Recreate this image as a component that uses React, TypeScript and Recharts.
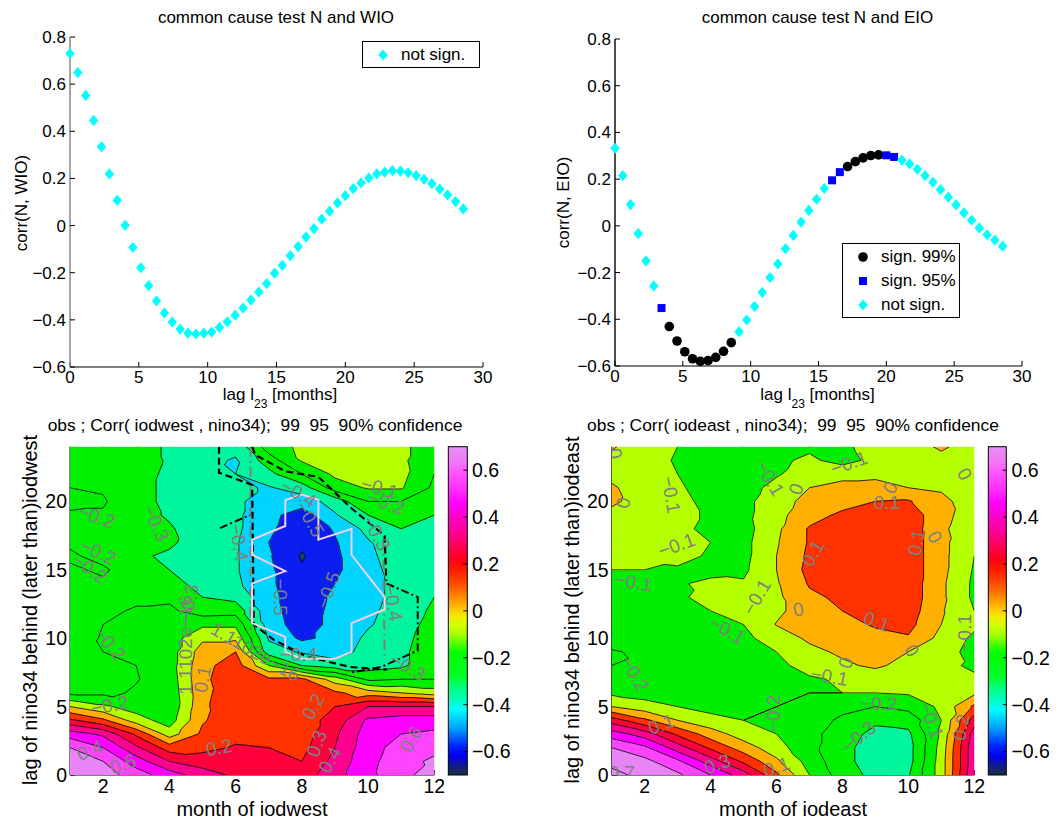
import React from 'react';
import { ScatterChart, Scatter, XAxis, YAxis, Legend, BarChart, Bar } from 'recharts';

const FONT = '"Liberation Sans", Arial, Helvetica, sans-serif';
const MINUS = '\u2212';

// ---------- top panels: lagged correlations ----------
const LAG_STEP = 4 / 7; // months between successive lags
const corrNWio = [
  0.730, 0.649, 0.552, 0.446, 0.334, 0.219, 0.107, 0.001, -0.093, -0.179, -0.255, -0.320, -0.371,
  -0.409, -0.439, -0.456, -0.460, -0.456, -0.452, -0.432, -0.408, -0.380, -0.350, -0.316, -0.282,
  -0.246, -0.202, -0.169, -0.128, -0.089, -0.049, -0.013, 0.027, 0.061, 0.096, 0.127, 0.157, 0.181,
  0.202, 0.219, 0.227, 0.233, 0.231, 0.224, 0.212, 0.196, 0.178, 0.155, 0.130, 0.102, 0.071,
];
const corrNEio = [
  0.332, 0.215, 0.091, -0.033, -0.150, -0.257, -0.352, -0.431, -0.493, -0.539, -0.569, -0.580, -0.577,
  -0.563, -0.537, -0.500, -0.453, -0.403, -0.345, -0.285, -0.221, -0.163, -0.098, -0.041, 0.016,
  0.066, 0.114, 0.160, 0.195, 0.230, 0.254, 0.275, 0.291, 0.301, 0.304, 0.302, 0.295, 0.281, 0.265,
  0.242, 0.215, 0.187, 0.155, 0.123, 0.090, 0.056, 0.024, -0.009, -0.038, -0.061, -0.087,
];
// significance class of each N/EIO lag
const eioSignificance = [
  'ns', 'ns', 'ns', 'ns', 'ns', 'ns', '95', '99', '99', '99', '99', '99', '99', '99', '99', '99',
  'ns', 'ns', 'ns', 'ns', 'ns', 'ns', 'ns', 'ns', 'ns', 'ns', 'ns', 'ns', '95', '95',
  '99', '99', '99', '99', '99', '95', '95',
  'ns', 'ns', 'ns', 'ns', 'ns', 'ns', 'ns', 'ns', 'ns', 'ns', 'ns', 'ns', 'ns', 'ns',
];
const SERIES_ORDER = ['sign. 99%', 'sign. 95%', 'not sign.'];
const LAG_TICKS = [0, 5, 10, 15, 20, 25, 30];
const CORR_TICKS = [-0.6, -0.4, -0.2, 0, 0.2, 0.4, 0.6, 0.8];

// ---------- bottom panels: month x lag correlation maps ----------
const MONTHS = [1, 2, 3, 4, 5, 6, 7, 8, 9, 10, 11, 12];
const LAGS = [0, 1, 2, 3, 4, 5, 6, 7, 8, 9, 10, 11, 12, 13, 14, 15, 16, 17, 18, 19, 20, 21, 22, 23, 24];
const MONTH_TICKS = [2, 4, 6, 8, 10, 12];
const LAGMAP_TICKS = [0, 5, 10, 15, 20];
const CBAR_TICKS = [-0.6, -0.4, -0.2, 0, 0.2, 0.4, 0.6];

// corr(iodwest, nino34): one row per lag (0..24), one column per month (1..12)
const iodWestCorr = [
  [0.68, 0.65, 0.55, 0.45, 0.35, 0.28, 0.26, 0.25, 0.36, 0.48, 0.55, 0.68],
  [0.66, 0.6, 0.45, 0.3, 0.25, 0.25, 0.23, 0.2, 0.33, 0.47, 0.56, 0.62],
  [0.6, 0.5, 0.32, 0.15, 0.17, 0.21, 0.2, 0.17, 0.3, 0.46, 0.54, 0.57],
  [0.45, 0.38, 0.18, -0.05, 0.12, 0.17, 0.17, 0.15, 0.28, 0.45, 0.5, 0.52],
  [0.22, 0.12, -0.05, -0.15, 0.09, 0.16, 0.15, 0.15, 0.24, 0.42, 0.45, 0.45],
  [0.0, -0.08, -0.15, -0.18, 0.08, 0.17, 0.15, 0.15, 0.2, 0.3, 0.3, 0.3],
  [-0.22, -0.22, -0.19, -0.17, 0.07, 0.17, 0.16, 0.15, 0.12, 0.05, 0.0, -0.05],
  [-0.24, -0.21, -0.205, -0.16, 0.08, 0.16, 0.12, 0.12, -0.05, -0.22, -0.2, -0.2],
  [-0.22, -0.21, -0.2, -0.15, 0.07, 0.15, -0.1, -0.3, -0.35, -0.35, -0.32, -0.22],
  [-0.22, -0.2, -0.18, -0.15, 0.05, 0.1, -0.36, -0.41, -0.45, -0.36, -0.32, -0.24],
  [-0.23, -0.195, -0.17, -0.15, -0.02, -0.02, -0.41, -0.52, -0.47, -0.38, -0.33, -0.25],
  [-0.24, -0.2, -0.17, -0.16, -0.12, -0.12, -0.45, -0.55, -0.47, -0.41, -0.35, -0.26],
  [-0.24, -0.22, -0.19, -0.18, -0.25, -0.24, -0.46, -0.56, -0.47, -0.42, -0.36, -0.28],
  [-0.23, -0.23, -0.22, -0.22, -0.3, -0.33, -0.47, -0.56, -0.48, -0.43, -0.37, -0.3],
  [-0.21, -0.21, -0.23, -0.27, -0.33, -0.38, -0.48, -0.57, -0.5, -0.43, -0.37, -0.32],
  [-0.21, -0.19, -0.24, -0.3, -0.35, -0.39, -0.48, -0.59, -0.52, -0.43, -0.36, -0.32],
  [-0.19, -0.22, -0.28, -0.32, -0.36, -0.39, -0.49, -0.61, -0.52, -0.42, -0.35, -0.33],
  [-0.21, -0.22, -0.27, -0.28, -0.36, -0.39, -0.5, -0.58, -0.51, -0.41, -0.33, -0.33],
  [-0.23, -0.22, -0.28, -0.29, -0.35, -0.38, -0.48, -0.57, -0.49, -0.37, -0.3, -0.32],
  [-0.21, -0.21, -0.27, -0.31, -0.35, -0.38, -0.47, -0.55, -0.41, -0.3, -0.27, -0.3],
  [-0.18, -0.19, -0.27, -0.32, -0.36, -0.38, -0.45, -0.45, -0.36, -0.2, -0.2, -0.25],
  [-0.2, -0.21, -0.27, -0.32, -0.37, -0.38, -0.41, -0.35, -0.15, -0.09, -0.09, -0.22],
  [-0.22, -0.22, -0.26, -0.32, -0.38, -0.4, -0.33, -0.2, -0.08, -0.06, -0.07, -0.2],
  [-0.22, -0.23, -0.26, -0.31, -0.37, -0.41, -0.25, -0.09, -0.06, -0.04, -0.08, -0.18],
  [-0.22, -0.23, -0.27, -0.31, -0.36, -0.37, -0.15, -0.08, -0.05, -0.04, -0.08, -0.15],
];

// corr(iodeast, nino34): one row per lag (0..24), one column per month (1..12)
const iodEastCorr = [
  [0.72, 0.68, 0.62, 0.5, 0.35, 0.12, -0.1, -0.25, -0.33, -0.31, -0.05, 0.4],
  [0.68, 0.63, 0.52, 0.35, 0.18, 0.02, -0.14, -0.27, -0.35, -0.34, -0.05, 0.38],
  [0.6, 0.52, 0.35, 0.18, 0.05, -0.06, -0.17, -0.27, -0.35, -0.34, -0.06, 0.38],
  [0.45, 0.35, 0.18, 0.05, -0.05, -0.1, -0.17, -0.25, -0.33, -0.32, -0.08, 0.35],
  [0.25, 0.12, 0.0, -0.07, -0.1, -0.12, -0.15, -0.22, -0.28, -0.26, -0.1, 0.25],
  [0.0, -0.06, -0.1, -0.13, -0.13, -0.1, -0.12, -0.17, -0.2, -0.17, -0.08, 0.12],
  [-0.12, -0.14, -0.15, -0.15, -0.14, -0.12, -0.1, -0.1, -0.1, -0.09, -0.07, -0.02],
  [-0.18, -0.18, -0.17, -0.16, -0.15, -0.14, -0.11, -0.09, -0.07, -0.06, -0.07, -0.08],
  [-0.2, -0.19, -0.17, -0.15, -0.14, -0.12, -0.07, -0.02, 0.02, -0.04, -0.07, -0.12],
  [-0.21, -0.18, -0.16, -0.14, -0.13, -0.1, -0.03, 0.02, 0.03, 0.0, -0.05, -0.14],
  [-0.15, -0.16, -0.15, -0.13, -0.12, -0.06, 0.02, 0.05, 0.07, 0.09, -0.03, -0.12],
  [-0.15, -0.15, -0.14, -0.12, -0.1, 0.005, 0.04, 0.07, 0.11, 0.13, 0.0, -0.08],
  [-0.14, -0.14, -0.13, -0.1, -0.08, -0.02, 0.05, 0.1, 0.13, 0.15, 0.01, -0.1],
  [-0.13, -0.13, -0.12, -0.06, -0.08, -0.02, 0.08, 0.12, 0.15, 0.16, 0.02, -0.12],
  [-0.12, -0.12, -0.11, -0.08, -0.09, -0.01, 0.11, 0.15, 0.16, 0.16, 0.02, -0.12],
  [-0.1, -0.1, -0.12, -0.13, -0.12, 0.0, 0.13, 0.16, 0.17, 0.16, 0.03, -0.11],
  [-0.08, -0.07, -0.05, -0.12, -0.13, 0.0, 0.12, 0.16, 0.17, 0.16, 0.03, -0.1],
  [-0.06, -0.08, -0.06, -0.1, -0.13, -0.01, 0.11, 0.15, 0.17, 0.16, 0.03, -0.09],
  [-0.05, -0.07, -0.08, -0.12, -0.14, -0.02, 0.11, 0.14, 0.16, 0.16, 0.02, -0.07],
  [-0.03, -0.06, -0.08, -0.11, -0.13, -0.03, 0.06, 0.12, 0.14, 0.16, 0.03, -0.05],
  [0.02, -0.05, -0.08, -0.12, -0.13, -0.04, 0.03, 0.06, 0.1, 0.11, 0.02, -0.04],
  [0.01, -0.04, -0.09, -0.13, -0.14, -0.07, 0.0, 0.02, 0.03, 0.0, -0.01, -0.03],
  [-0.02, -0.06, -0.1, -0.13, -0.14, -0.11, -0.05, -0.02, -0.02, -0.01, -0.04, -0.03],
  [-0.03, -0.06, -0.11, -0.14, -0.15, -0.12, -0.08, -0.14, -0.07, -0.03, -0.02, -0.04],
  [0.01, -0.05, -0.1, -0.13, -0.14, -0.13, -0.12, -0.12, -0.06, -0.03, 0.01, -0.03],
];

// inline contour labels: [month, lag, text, rotation]
const westLabels: [number, number, string, number][] = [
  [1.8, 18.9, '−0.2', 20], [1.85, 16.3, '−0.2', 25], [1.6, 15.1, '−0.2', 35], [3.6, 18.4, '−0.3', 65],
  [2.2, 9.6, '−0.2', 50], [2.2, 5.1, '−0.2', -10], [6.1, 17.0, '−0.4', 80], [7.35, 13.0, '−0.5', 90],
  [8.8, 13.5, '−0.5', -70], [8.25, 18.7, '−0.5', 60], [7.9, 20.6, '−0.4', 30], [10.25, 17.7, '−0.3', 60],
  [10.35, 21.0, '−0.1', 15], [10.55, 19.9, '−0.2', 20], [8.35, 5.0, '0.2', -60], [8.45, 2.3, '0.3', -70],
  [8.85, 1.1, '0.4', -60], [5.5, 2.0, '0.2', -10], [5.0, 7.0, '0.1', -80], [10.75, 12.6, '−0.4', 80],
  [11.3, 2.6, '0.6', -60], [11.2, 7.9, '−0.3', 30], [4.5, 9.5, '1.1102e−16', -90], [6.6, 9.0, '1.1102e−16', 30],
  [4.6, 12.6, '−0.3', -80], [7.9, 8.8, '−0.4', 0], [1.6, 1.8, '0.4', -20], [2.6, 0.8, '0.6', -20],
];
const eastLabels: [number, number, string, number][] = [
  [1.1, 23.5, '0', 80], [1.35, 19.9, '0', -80], [2.8, 20.5, '−0.1', 80], [2.97, 16.8, '−0.1', -20],
  [1.66, 14.1, '−0.1', 10], [5.8, 21.7, '−0.1', 60], [8.2, 22.8, '−0.1', -20], [6.6, 20.9, '0', -70],
  [9.45, 21.0, '0', -60], [9.35, 19.9, '0.1', 0], [7.1, 16.2, '0.1', -60], [10.25, 17.0, '0.1', -80],
  [10.8, 17.4, '0', 60], [9.04, 11.2, '0.1', 20], [6.66, 12.1, '0', -10], [8.1, 8.2, '0', -70],
  [10.1, 9.1, '0', 60], [5.4, 13.0, '−0.1', -60], [4.5, 10.6, '−0.1', 30], [7.6, 7.2, '−0.1', 10],
  [9.1, 5.2, '−0.2', 0], [5.9, 4.5, '−0.2', -90], [8.5, 2.8, '−0.3', -40], [11.7, 10.4, '−0.1', -90],
  [1.7, 7.4, '−0.2', 60], [10.7, 4.0, '−0.1', 70], [1.3, 0.2, '0.7', 0], [2.5, 3.7, '0.1', -20],
  [4.2, 0.8, '0.3', -20], [6.0, 0.6, '0.1', -20], [11.6, 3.5, '0.2', -80], [11.7, 22.0, '0', 60],
];

// confidence outlines for the iodwest map: [month, lag] vertices
const westConf90: [number, number][] = [
  [7.5, 20.1], [8, 20.5], [8.5, 20.1], [8.5, 17.2], [9.5, 18], [9.5, 16.1], [10.5, 13], [10.5, 12.1],
  [9.5, 11.1], [9.5, 9], [9, 8.5], [8, 8.5], [7.5, 9], [7.5, 10.1], [6.5, 11.1], [6.5, 14], [7.5, 14.9],
  [6.5, 16.1], [6.5, 17.2], [7.5, 18.2], [7.5, 20.1],
];
const westConf99a: [number, number][] = [
  [5.5, 24], [5.5, 22.1], [6.5, 21.2], [6.55, 11.0], [7.14, 9.9], [8.14, 8.66], [9.45, 7.9], [10.56, 7.7],
];
const westConf99b: [number, number][] = [[6.5, 24], [6.6, 23.4], [7.5, 22.2], [8.5, 21.8], [9.5, 19.5], [10.5, 17.5], [10.55, 14.2]];
const westConf95a: [number, number][] = [[5.53, 18.05], [6.43, 19.0]];
const westConf95b: [number, number][] = [[10.56, 14.0], [11.5, 13.0], [11.5, 9.1], [10.4, 7.9], [9.5, 7.5]];
const westConfGreyA: [number, number][] = [[6.45, 24], [6.45, 10.6]];
const westConfGreyB: [number, number][] = [[10.46, 17.2], [10.5, 8.4]];

// ---------- colour scale ----------
const LEVELS = Array.from({ length: 15 }, (_, i) => (i - 7) / 10);
// fill of each band: below -0.7, [-0.7,-0.6), ... , [0.6,0.7), above 0.7
const BAND_COLORS = [
  '#1c3548', '#1e4658', '#0b1ef0', '#00d4ff', '#00f59c', '#00f000', '#00ee00', '#b4ff00',
  '#ffb000', '#ff3200', '#ff003c', '#ff0090', '#ff00ff', '#ff44ff', '#e884f8', '#e090f5',
];
const CBAR_STOPS: [number, string][] = [
  [0.7, '#e48ef4'], [0.64, '#f07af6'], [0.6, '#ff5cff'], [0.52, '#ff30ff'], [0.46, '#ff00ff'],
  [0.4, '#ff00c8'], [0.34, '#ff0098'], [0.28, '#ff005c'], [0.22, '#ff0018'], [0.18, '#ff1800'],
  [0.12, '#ff4800'], [0.07, '#ff7c00'], [0.03, '#ffac00'], [0.0, '#ffd000'], [-0.03, '#f0f000'],
  [-0.06, '#d4ff00'], [-0.1, '#a8ff00'], [-0.14, '#50ff00'], [-0.18, '#00ff00'], [-0.28, '#00ff28'],
  [-0.33, '#00ff80'], [-0.38, '#00ffc0'], [-0.42, '#00ffff'], [-0.46, '#00d0ff'], [-0.5, '#00a0ff'],
  [-0.54, '#0060ff'], [-0.58, '#0020ff'], [-0.62, '#0000f0'], [-0.66, '#101c90'], [-0.7, '#1c3040'],
];
const CBAR_SPAN = [{ name: 'corr', span: [-0.7, 0.7] }];

const fmt = (v: number) => {
  if (Math.abs(v) < 1e-9) return '0';
  const s = String(Math.round(v * 10) / 10);
  return s.replace('-', MINUS);
};

// ---------- filled contours from a grid ----------
type Pt = { x: number; y: number };
type VPt = Pt & { v: number };
const POLY_SLOTS = 5;

function clipPoly(poly: VPt[], level: number, keepAbove: boolean): VPt[] {
  const out: VPt[] = [];
  const inside = (p: VPt) => (keepAbove ? p.v >= level : p.v < level);
  for (let i = 0; i < poly.length; i++) {
    const a = poly[i];
    const b = poly[(i + 1) % poly.length];
    const ia = inside(a);
    const ib = inside(b);
    if (ia) out.push(a);
    if (ia !== ib) {
      const t = (level - a.v) / (b.v - a.v);
      out.push({ x: a.x + t * (b.x - a.x), y: a.y + t * (b.y - a.y), v: level });
    }
  }
  return out;
}

function buildContours(grid: number[][]) {
  const bands: Pt[][] = BAND_COLORS.map(() => []);
  const segs: Pt[] = [];
  const node = (i: number, j: number): VPt => ({ x: MONTHS[i], y: LAGS[j], v: grid[j][i] });
  for (let j = 0; j < LAGS.length - 1; j++) {
    for (let i = 0; i < MONTHS.length - 1; i++) {
      const a = node(i, j), b = node(i + 1, j), c = node(i + 1, j + 1), d = node(i, j + 1);
      const tris = Math.abs(a.v - c.v) <= Math.abs(b.v - d.v) ? [[a, b, c], [a, c, d]] : [[a, b, d], [b, c, d]];
      for (const tri of tris) {
        const vs = tri.map((p) => p.v);
        const lo = Math.min(...vs);
        const hi = Math.max(...vs);
        for (let k = 0; k < BAND_COLORS.length; k++) {
          const bLo = k === 0 ? -Infinity : LEVELS[k - 1];
          const bHi = k === LEVELS.length ? Infinity : LEVELS[k];
          if (hi < bLo || lo >= bHi) continue;
          let poly: VPt[] = tri;
          if (bLo > -Infinity) poly = clipPoly(poly, bLo, true);
          if (poly.length && bHi < Infinity) poly = clipPoly(poly, bHi, false);
          if (poly.length < 3) continue;
          for (let s = 0; s < POLY_SLOTS; s++) {
            const p = poly[Math.min(s, poly.length - 1)];
            bands[k].push({ x: p.x, y: p.y });
          }
        }
        for (const L of LEVELS) {
          const cross: Pt[] = [];
          for (let e = 0; e < 3; e++) {
            const p = tri[e];
            const q = tri[(e + 1) % 3];
            if ((p.v >= L) !== (q.v >= L)) {
              const t = (L - p.v) / (q.v - p.v);
              cross.push({ x: p.x + t * (q.x - p.x), y: p.y + t * (q.y - p.y) });
            }
          }
          if (cross.length === 2) segs.push(cross[0], cross[1]);
        }
      }
    }
  }
  return { bands, segs };
}

const NoMark = () => <g />;

const bandRenderer = (color: string) => (props: any) => {
  const pts: Pt[] = props.points || [];
  let d = '';
  for (let i = 0; i + POLY_SLOTS - 1 < pts.length; i += POLY_SLOTS) {
    d += `M${pts[i].x},${pts[i].y}`;
    for (let s = 1; s < POLY_SLOTS; s++) d += `L${pts[i + s].x},${pts[i + s].y}`;
    d += 'Z';
  }
  return <path d={d} fill={color} stroke={color} strokeWidth={0.7} strokeLinejoin="round" />;
};

const segmentRenderer = (props: any) => {
  const pts: Pt[] = props.points || [];
  let d = '';
  for (let i = 0; i + 1 < pts.length; i += 2) d += `M${pts[i].x},${pts[i].y}L${pts[i + 1].x},${pts[i + 1].y}`;
  return <path d={d} fill="none" stroke="#000" strokeWidth={0.8} strokeLinejoin="round" />;
};

const ContourText = (p: any) => {
  const lab = p.payload || {};
  return (
    <text
      x={p.cx}
      y={p.cy}
      transform={`rotate(${lab.angle || 0},${p.cx},${p.cy})`}
      textAnchor="middle"
      dominantBaseline="central"
      fontSize={19}
      fill="#808080"
      fontFamily={FONT}
    >
      {lab.text}
    </text>
  );
};

const toPts = (arr: [number, number][]) => arr.map(([x, y]) => ({ x, y }));

type OutlineSpec = { pts: [number, number][]; stroke: string; width: number; dash?: string };

function ContourPanel(props: {
  grid: number[][];
  labels: [number, number, string, number][];
  outlines: OutlineSpec[];
  left: number;
  width: number;
  marginLeft: number;
  marginRight: number;
}) {
  const { bands, segs } = React.useMemo(() => buildContours(props.grid), [props.grid]);
  const labelData = props.labels.map(([x, y, text, angle]) => ({ x, y, text, angle }));
  return (
    <div style={{ position: 'absolute', left: props.left, top: 400 }}>
      <ScatterChart
        width={props.width}
        height={418}
        margin={{ top: 46.7, right: props.marginRight, bottom: 13, left: props.marginLeft }}
      >
        <XAxis
          type="number"
          dataKey="x"
          domain={[1, 12]}
          ticks={MONTH_TICKS}
          interval={0}
          allowDataOverflow
          height={30}
          tickSize={-5}
          tickMargin={9.5}
          axisLine={{ stroke: '#000' }}
          tickLine={{ stroke: '#000' }}
          tick={{ fontSize: 19.5, fill: '#000', fontFamily: FONT }}
        />
        <YAxis
          type="number"
          dataKey="y"
          domain={[0, 24]}
          ticks={LAGMAP_TICKS}
          interval={0}
          allowDataOverflow
          width={50}
          tickSize={-5}
          tickMargin={8}
          axisLine={{ stroke: '#000' }}
          tickLine={{ stroke: '#000' }}
          tick={{ fontSize: 19.5, fill: '#000', fontFamily: FONT }}
        />
        {bands.map((pts, k) =>
          pts.length ? (
            <Scatter
              key={`band-${k}`}
              data={pts}
              shape={NoMark}
              line={bandRenderer(BAND_COLORS[k])}
              legendType="none"
              isAnimationActive={false}
            />
          ) : null,
        )}
        <Scatter data={segs} shape={NoMark} line={segmentRenderer} legendType="none" isAnimationActive={false} />
        {props.outlines.map((o, n) => (
          <Scatter
            key={`outline-${n}`}
            data={toPts(o.pts)}
            shape={NoMark}
            line={{ stroke: o.stroke, strokeWidth: o.width, strokeDasharray: o.dash, fill: 'none' }}
            lineType="joint"
            legendType="none"
            isAnimationActive={false}
          />
        ))}
        <Scatter data={labelData} shape={ContourText} legendType="none" isAnimationActive={false} />
      </ScatterChart>
    </div>
  );
}

function Colorbar(props: { left: number; width: number; marginRight: number; id: string }) {
  const stops = CBAR_STOPS.map(([v, c]) => (
    <stop key={v} offset={`${((0.7 - v) / 1.4) * 100}%`} stopColor={c} />
  ));
  const shape = (p: any) => (
    <g>
      <defs>
        <linearGradient id={props.id} x1="0" y1="0" x2="0" y2="1">
          {stops}
        </linearGradient>
      </defs>
      <rect x={p.x} y={p.y} width={p.width} height={p.height} fill={`url(#${props.id})`} stroke="#000" strokeWidth={1} />
    </g>
  );
  return (
    <div style={{ position: 'absolute', left: props.left, top: 400 }}>
      <BarChart
        width={props.width}
        height={418}
        data={CBAR_SPAN}
        margin={{ top: 46.7, right: props.marginRight, bottom: 43, left: 8.3 }}
        barCategoryGap={0}
      >
        <Bar yAxisId="r" dataKey="span" shape={shape} isAnimationActive={false} />
        <XAxis dataKey="name" hide />
        <YAxis
          yAxisId="l"
          orientation="left"
          width={0}
          domain={[-0.7, 0.7]}
          ticks={CBAR_TICKS}
          interval={0}
          tick={false}
          axisLine={false}
          tickSize={-4}
          tickLine={{ stroke: '#000' }}
        />
        <YAxis
          yAxisId="r"
          orientation="right"
          width={50}
          domain={[-0.7, 0.7]}
          ticks={CBAR_TICKS}
          interval={0}
          axisLine={false}
          tickSize={-4}
          tickMargin={8.7}
          tickFormatter={fmt}
          tickLine={{ stroke: '#000' }}
          tick={{ fontSize: 19.5, fill: '#000', fontFamily: FONT }}
        />
      </BarChart>
    </div>
  );
}

// ---------- markers ----------
const Diamond = (p: any) => (
  <polygon
    points={`${p.cx},${p.cy - 5.6} ${p.cx + 4.7},${p.cy} ${p.cx},${p.cy + 5.6} ${p.cx - 4.7},${p.cy}`}
    fill="#00ffff"
  />
);
const Dot = (p: any) => <circle cx={p.cx} cy={p.cy} r={4.8} fill="#000" />;
const Square = (p: any) => <rect x={p.cx - 4} y={p.cy - 4} width={8} height={8} fill="#0000ff" />;

const MARKER_OF: Record<string, (x: number, y: number) => React.ReactNode> = {
  'sign. 99%': (x, y) => <circle cx={x} cy={y} r={4.8} fill="#000" />,
  'sign. 95%': (x, y) => <rect x={x - 4} y={y - 4} width={8} height={8} fill="#0000ff" />,
  'not sign.': (x, y) => (
    <polygon points={`${x},${y - 5.6} ${x + 4.7},${y} ${x},${y + 5.6} ${x - 4.7},${y}`} fill="#00ffff" />
  ),
};

const legendContent = (markerX: number, textX: number, boxH: number) => (props: any) => {
  const items = (props.payload || [])
    .filter((e: any) => e.type !== 'none')
    .slice()
    .sort((a: any, b: any) => SERIES_ORDER.indexOf(a.value) - SERIES_ORDER.indexOf(b.value));
  return (
    <div
      style={{
        position: 'relative',
        width: 118,
        height: boxH,
        boxSizing: 'border-box',
        border: '1px solid #000',
        background: '#fff',
        fontFamily: FONT,
        fontSize: 17,
        color: '#000',
      }}
    >
      {items.map((e: any, n: number) => (
        <div key={e.value} style={{ position: 'absolute', left: 0, top: 1 + n * 24, height: 24, width: 116 }}>
          <svg width={30} height={24} style={{ position: 'absolute', left: markerX - 15, top: 0 }}>
            {MARKER_OF[e.value] ? MARKER_OF[e.value](15, 12) : null}
          </svg>
          <span style={{ position: 'absolute', left: textX, top: 2, lineHeight: '20px', whiteSpace: 'nowrap' }}>
            {e.value}
          </span>
        </div>
      ))}
    </div>
  );
};

const corrAxisTick = { fontSize: 17, fill: '#000', fontFamily: FONT };

function LagPanel(props: {
  left: number;
  width: number;
  margin: { top: number; right: number; bottom: number; left: number };
  series: { name: string; data: Pt[]; shape: any }[];
  yAxisColor: string;
  legendPos: { left: number; top: number; h: number };
}) {
  return (
    <div style={{ position: 'absolute', left: props.left, top: 0 }}>
      <ScatterChart width={props.width} height={400} margin={props.margin}>
        <XAxis
          type="number"
          dataKey="x"
          domain={[0, 30]}
          ticks={LAG_TICKS}
          interval={0}
          height={30}
          tickSize={-5}
          tickMargin={9}
          axisLine={{ stroke: '#000' }}
          tickLine={{ stroke: '#000' }}
          tick={corrAxisTick}
        />
        <YAxis
          type="number"
          dataKey="y"
          domain={[-0.6, 0.8]}
          ticks={CORR_TICKS}
          interval={0}
          width={50}
          tickSize={-5}
          tickMargin={9}
          tickFormatter={fmt}
          axisLine={{ stroke: props.yAxisColor, strokeWidth: 1.4 }}
          tickLine={{ stroke: '#000' }}
          tick={corrAxisTick}
        />
        {props.series.map((s) => (
          <Scatter key={s.name} name={s.name} data={s.data} shape={s.shape} isAnimationActive={false} />
        ))}
        <Legend
          layout="vertical"
          align="center"
          verticalAlign="middle"
          content={legendContent(20, 38, props.legendPos.h)}
          wrapperStyle={{ left: props.legendPos.left, top: props.legendPos.top, width: 118, bottom: 'auto', right: 'auto' }}
        />
      </ScatterChart>
    </div>
  );
}

export default function App() {
  const wioPts = corrNWio.map((c, i) => ({ x: i * LAG_STEP, y: c }));
  const eioPts = corrNEio.map((c, i) => ({ x: i * LAG_STEP, y: c, sig: eioSignificance[i] }));
  const eio99 = eioPts.filter((p) => p.sig === '99');
  const eio95 = eioPts.filter((p) => p.sig === '95');
  const eioNs = eioPts.filter((p) => p.sig === 'ns');

  const westOutlines: OutlineSpec[] = [
    { pts: westConfGreyA, stroke: '#808080', width: 2, dash: '10 4 2 4' },
    { pts: westConfGreyB, stroke: '#808080', width: 2, dash: '10 4 2 4' },
    { pts: westConf99a, stroke: '#000', width: 2.2, dash: '7 4' },
    { pts: westConf99b, stroke: '#000', width: 2.2, dash: '7 4' },
    { pts: westConf95a, stroke: '#000', width: 2, dash: '8 3 2 3' },
    { pts: westConf95b, stroke: '#000', width: 2, dash: '8 3 2 3' },
    { pts: westConf90, stroke: '#f3d0f3', width: 2 },
  ];

  return (
    <div
      style={{
        position: 'absolute',
        left: 0,
        top: 0,
        width: 1062,
        height: 818,
        background: '#fff',
        overflow: 'hidden',
        fontFamily: FONT,
      }}
    >
      <svg width={1062} height={818} style={{ position: 'absolute', left: 0, top: 0 }} fontFamily={FONT} fill="#000">
        <text x={276} y={23} fontSize={17} textAnchor="middle">common cause test N and WIO</text>
        <text x={817.5} y={23} fontSize={17} textAnchor="middle">common cause test N and EIO</text>
        <text transform="translate(27,203) rotate(-90)" fontSize={17} textAnchor="middle">corr(N, WIO)</text>
        <text transform="translate(569,202.5) rotate(-90)" fontSize={17} textAnchor="middle">corr(N, EIO)</text>
        <text x={280} y={400} fontSize={17} textAnchor="middle">
          lag l<tspan dy={8} fontSize={12}>23</tspan><tspan dy={-8}> [months]</tspan>
        </text>
        <text x={817.5} y={400} fontSize={17} textAnchor="middle">
          lag l<tspan dy={8} fontSize={12}>23</tspan><tspan dy={-8}> [months]</tspan>
        </text>
        <text x={255} y={431} fontSize={17.4} textAnchor="middle" xmlSpace="preserve">
          obs ; Corr( iodwest , nino34);  99  95  90% confidence
        </text>
        <text x={793} y={431} fontSize={17.4} textAnchor="middle" xmlSpace="preserve">
          obs ; Corr( iodeast , nino34);  99  95  90% confidence
        </text>
        <text transform="translate(37,610) rotate(-90)" fontSize={20} textAnchor="middle">
          lag of nino34 behind (later than)iodwest
        </text>
        <text transform="translate(579,610) rotate(-90)" fontSize={20} textAnchor="middle">
          lag of nino34 behind (later than)iodeast
        </text>
        <text x={252} y={815.5} fontSize={20} textAnchor="middle">month of iodwest</text>
        <text x={793} y={815.5} fontSize={20} textAnchor="middle">month of iodeast</text>
      </svg>

      <LagPanel
        left={0}
        width={530}
        margin={{ top: 37, right: 47, bottom: 3, left: 20 }}
        series={[{ name: 'not sign.', data: wioPts, shape: Diamond }]}
        yAxisColor="#808080"
        legendPos={{ left: 362, top: 41, h: 27 }}
      />
      <LagPanel
        left={530}
        width={532}
        margin={{ top: 39, right: 40, bottom: 4, left: 35 }}
        series={[
          { name: 'sign. 99%', data: eio99, shape: Dot },
          { name: 'sign. 95%', data: eio95, shape: Square },
          { name: 'not sign.', data: eioNs, shape: Diamond },
        ]}
        yAxisColor="#000"
        legendPos={{ left: 312, top: 243, h: 75 }}
      />

      <ContourPanel
        grid={iodWestCorr}
        labels={westLabels}
        outlines={westOutlines}
        left={0}
        width={460}
        marginLeft={20}
        marginRight={25.7}
      />
      <Colorbar left={440} width={90} marginRight={12.7} id="cbar-west" />
      <ContourPanel
        grid={iodEastCorr}
        labels={eastLabels}
        outlines={[]}
        left={530}
        width={470}
        marginLeft={31.7}
        marginRight={25.7}
      />
      <Colorbar left={980} width={82} marginRight={5.3} id="cbar-east" />
    </div>
  );
}
